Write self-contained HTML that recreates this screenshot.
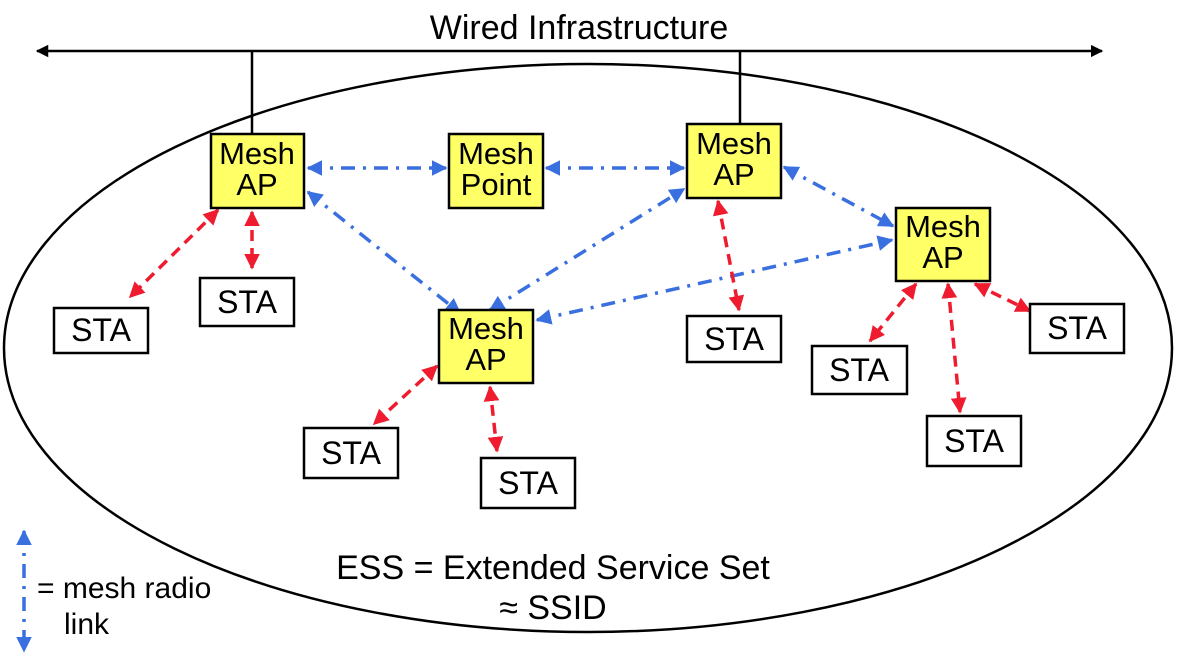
<!DOCTYPE html>
<html><head><style>body{margin:0;background:#fff}svg{display:block}</style></head><body>
<svg width="1179" height="670" viewBox="0 0 1179 670" xmlns="http://www.w3.org/2000/svg" font-family="Liberation Sans, Arial, sans-serif">
<defs>
<marker id="b" viewBox="0 0 10 10" refX="9" refY="5" markerWidth="4.5" markerHeight="4.5" orient="auto-start-reverse"><path d="M0,0L10,5L0,10z" fill="#3a6fe0"/></marker>
<marker id="r" viewBox="0 0 10 10" refX="9" refY="5" markerWidth="4.5" markerHeight="4.5" orient="auto-start-reverse"><path d="M0,0L10,5L0,10z" fill="#ee1c2e"/></marker>
<marker id="k" viewBox="0 0 10 10" refX="9" refY="5" markerWidth="5" markerHeight="5" orient="auto-start-reverse"><path d="M0,0L10,5L0,10z" fill="#000"/></marker>
</defs>
<ellipse cx="588" cy="348" rx="584" ry="284" fill="none" stroke="#000" stroke-width="2.5"/>
<line x1="37" y1="51" x2="1102" y2="51" stroke="#000" stroke-width="2.5" marker-start="url(#k)" marker-end="url(#k)"/>
<text x="579" y="39" font-size="34" text-anchor="middle">Wired Infrastructure</text>
<line x1="252" y1="51" x2="252" y2="134" stroke="#000" stroke-width="2.5"/>
<line x1="740" y1="51" x2="740" y2="124" stroke="#000" stroke-width="2.5"/>
<g stroke="#3a6fe0" stroke-width="3.5" stroke-dasharray="14,8,3,8" fill="none" marker-start="url(#b)" marker-end="url(#b)">
<line x1="308" y1="168" x2="446" y2="168"/>
<line x1="546" y1="168" x2="684" y2="168"/>
<line x1="308" y1="192" x2="460" y2="313"/>
<line x1="490" y1="310" x2="684" y2="189"/>
<line x1="537" y1="320" x2="892" y2="240"/>
<line x1="784" y1="167" x2="893" y2="226"/>
<line x1="24" y1="531" x2="24" y2="651"/>
</g>
<g stroke="#ee1c2e" stroke-width="3.5" stroke-dasharray="11,7" fill="none" marker-start="url(#r)" marker-end="url(#r)">
<line x1="218" y1="210" x2="130" y2="297"/>
<line x1="252" y1="212" x2="252" y2="268"/>
<line x1="718" y1="201" x2="739" y2="310"/>
<line x1="437" y1="366" x2="374" y2="424"/>
<line x1="490" y1="387" x2="497" y2="451"/>
<line x1="916" y1="284" x2="870" y2="341"/>
<line x1="948" y1="284" x2="960" y2="412"/>
<line x1="975" y1="284" x2="1030" y2="311"/>
</g>
<g stroke="#000" stroke-width="2.5" fill="#ffff66">
<rect x="211" y="134" width="93" height="74"/>
<rect x="449" y="134" width="94" height="74"/>
<rect x="687" y="124" width="94" height="74"/>
<rect x="896" y="208" width="94" height="73"/>
<rect x="439" y="310" width="94" height="73"/>
</g>
<g stroke="#000" stroke-width="2.5" fill="#fff">
<rect x="54" y="308" width="94" height="45"/>
<rect x="200" y="278" width="94" height="48"/>
<rect x="687" y="316" width="94" height="46"/>
<rect x="812" y="346" width="95" height="48"/>
<rect x="1030" y="304" width="94" height="49"/>
<rect x="927" y="416" width="94" height="50"/>
<rect x="304" y="428" width="94" height="50"/>
<rect x="481" y="458" width="94" height="50"/>
</g>
<g font-size="31" text-anchor="middle">
<text x="257" y="164">Mesh</text><text x="257" y="195">AP</text>
<text x="496" y="164">Mesh</text><text x="496" y="195">Point</text>
<text x="734" y="154">Mesh</text><text x="734" y="185">AP</text>
<text x="943" y="237">Mesh</text><text x="943" y="268">AP</text>
<text x="486" y="339">Mesh</text><text x="486" y="370">AP</text>
</g>
<g font-size="32" text-anchor="middle">
<text x="101" y="341">STA</text>
<text x="247" y="313">STA</text>
<text x="734" y="350">STA</text>
<text x="859" y="381">STA</text>
<text x="1077" y="339">STA</text>
<text x="974" y="452">STA</text>
<text x="351" y="464">STA</text>
<text x="528" y="494">STA</text>
</g>
<text x="553" y="579" font-size="34" text-anchor="middle">ESS = Extended Service Set</text>
<text x="553" y="619" font-size="34" text-anchor="middle">≈ SSID</text>
<text x="37" y="598" font-size="30">= mesh radio</text>
<text x="64" y="634" font-size="30">link</text>
</svg>
</body></html>
